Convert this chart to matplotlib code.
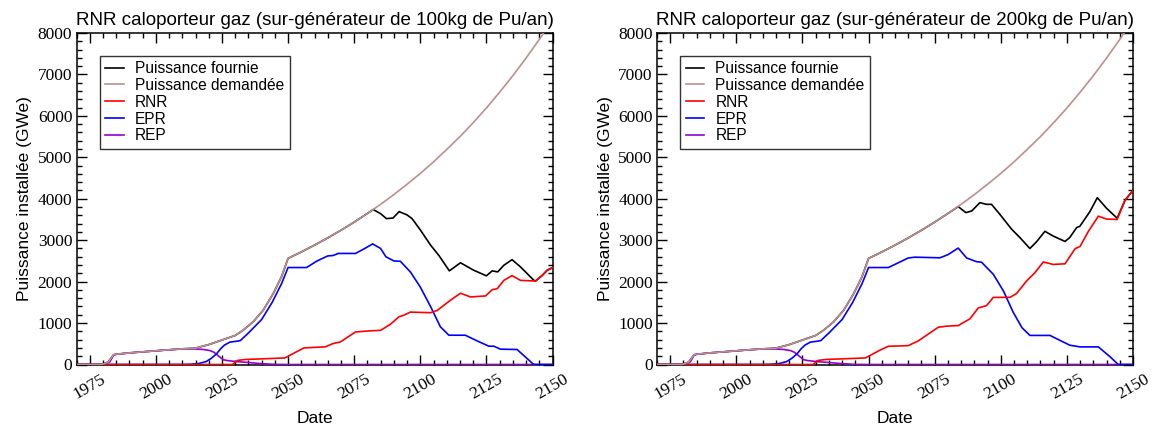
import numpy as np
import matplotlib
matplotlib.use("Agg")
from matplotlib import pyplot as plt
from matplotlib.ticker import MultipleLocator

# puissance demandee (commune aux deux scenarios)
dem_years = [1970, 1979, 1980, 1982, 1984, 1985, 1990, 1995, 2000, 2005, 2010, 2015,
             2020, 2025, 2030, 2033, 2036.8, 2040.6, 2044.4, 2047.5, 2050,
             2055, 2060, 2065, 2070, 2075, 2080, 2085, 2090, 2095, 2100, 2105, 2110,
             2115, 2120, 2125, 2130, 2135, 2140, 2145, 2150]
dem_vals = [0, 0, 10, 60, 235, 248, 280, 305, 330, 355, 378, 395,
            480, 590, 700, 828, 1030, 1310, 1713, 2114, 2560,
            2715, 2880, 3055, 3240, 3435, 3645, 3865, 4100, 4350, 4610, 4890, 5190,
            5500, 5835, 6190, 6570, 6970, 7395, 7845, 8320]

# REP (identique pour les deux scenarios)
rep_years = [1970, 1979, 1981, 1982.6, 1984, 1985, 1990, 1995, 2000, 2005, 2011, 2015,
             2018, 2020.5, 2022, 2024, 2025.5, 2027, 2030, 2035, 2040, 2045, 2050, 2150]
rep_vals = [0, 0, 20, 65, 220, 245, 280, 305, 330, 355, 378, 375,
            362, 335, 295, 190, 115, 95, 73, 48, 20, 3, 0, 0]

# scenario 100 kg Pu/an
epr1_years = [1970, 2010, 2013, 2016, 2019, 2021, 2023, 2024.5, 2026, 2028, 2031, 2032,
              2035, 2040, 2044, 2047.5, 2050, 2057, 2061, 2065, 2067, 2069, 2075.5, 2079,
              2082, 2085, 2087, 2090, 2092.5, 2096.3, 2100, 2104, 2107.6, 2110.8, 2117,
              2121.5, 2125.9, 2127.8, 2130.3, 2136.6, 2142.9, 2150]
epr1_vals = [0, 0, 5, 20, 70, 150, 260, 380, 470, 540, 565, 580,
             760, 1085, 1500, 1945, 2340, 2340, 2500, 2620, 2630, 2680, 2680, 2800,
             2910, 2800, 2600, 2500, 2490, 2230, 1870, 1385, 910, 707, 707,
             570, 442, 442, 370, 362, 0, 0]
rnr1_years = [1970, 2029, 2031, 2034, 2040, 2048.8, 2050, 2053, 2056, 2064, 2067, 2069.8,
              2075.5, 2080.5, 2085, 2088.7, 2091.9, 2093.8, 2096.3, 2103.9, 2106.4,
              2111.4, 2115.2, 2119, 2124.7, 2127.2, 2129.1, 2131.6, 2134.7, 2137.9,
              2143.6, 2146.1, 2148, 2150]
rnr1_vals = [0, 0, 100, 122, 136, 158, 198, 300, 400, 425, 505, 545,
             785, 810, 825, 970, 1150, 1190, 1265, 1250, 1305,
             1550, 1720, 1630, 1655, 1805, 1830, 2030, 2145, 2030,
             2015, 2150, 2275, 2335]
four1_start = 2082.2
four1_years = [2082.2, 2085, 2087.2, 2089.7, 2092, 2095, 2096.9, 2100.1, 2103.9, 2107,
               2111, 2115.2, 2120.2, 2125, 2127.2, 2129.3, 2131.6, 2134.7, 2137.9,
               2142.9, 2143.6, 2146.1, 2148, 2150]
four1_vals = [3740, 3640, 3520, 3535, 3690, 3610, 3520, 3240, 2880, 2635,
              2260, 2455, 2275, 2140, 2260, 2235, 2395, 2530, 2355,
              2035, 2015, 2150, 2275, 2335]

# scenario 200 kg Pu/an
epr2_years = [1970, 2010, 2013, 2016, 2019, 2021, 2023, 2024.5, 2026, 2028, 2031, 2032,
              2035, 2040, 2044, 2047.5, 2050, 2057.5, 2065, 2067.5, 2077, 2080, 2083.9,
              2087.1, 2090.9, 2092.7, 2097.2, 2101, 2104.7, 2108, 2111, 2118.6, 2126.1,
              2130, 2136.9, 2141.3, 2144.4, 2150]
epr2_vals = [0, 0, 5, 20, 70, 150, 260, 380, 470, 540, 565, 580,
             760, 1085, 1500, 1945, 2340, 2340, 2570, 2590, 2575, 2650, 2810,
             2570, 2480, 2470, 2175, 1775, 1260, 890, 702, 702, 465,
             425, 425, 188, 0, 0]
rnr2_years = [1970, 2029, 2031, 2034, 2040, 2048.8, 2050, 2054.3, 2057.5, 2065, 2068.8,
              2076.4, 2079.5, 2083.9, 2088.3, 2091.5, 2094.6, 2097.2, 2103.5, 2106,
              2109.8, 2112.9, 2116.1, 2119.8, 2124.3, 2128.1, 2130, 2133.1, 2136.9,
              2140, 2144, 2147, 2150]
rnr2_vals = [0, 0, 100, 122, 136, 158, 198, 345, 440, 455, 570,
             900, 925, 940, 1100, 1365, 1420, 1620, 1620, 1715,
             2020, 2215, 2475, 2415, 2430, 2795, 2850, 3210, 3580,
             3510, 3500, 3965, 4200]
four2_start = 2083.9
four2_years = [2083.9, 2086.8, 2089, 2092.1, 2094.6, 2096.5, 2099.7, 2104.1, 2107.2,
               2111, 2113.5, 2116.7, 2119.8, 2124.3, 2126.1, 2128.7, 2129.9, 2133.7,
               2136.5, 2140, 2144, 2147, 2150]
four2_vals = [3810, 3665, 3705, 3905, 3865, 3865, 3620, 3265, 3065,
              2800, 2960, 3215, 3100, 2970, 3065, 3305, 3335, 3690,
              4025, 3770, 3530, 3965, 4200]

titles = ["RNR caloporteur gaz (sur-générateur de 100kg de Pu/an)",
          "RNR caloporteur gaz (sur-générateur de 200kg de Pu/an)"]

sans = "Liberation Sans"
serif = "Liberation Serif"

c_four = "black"
c_dem = "#bc8f8f"
c_rnr = "#ff0000"
c_epr = "#0000ff"
c_rep = "#9400d3"


def fourni(start, years, vals):
    dy = np.array(dem_years, dtype=float)
    dv = np.array(dem_vals, dtype=float)
    m = dy < start
    return np.concatenate([dy[m], years]), np.concatenate([dv[m], vals])


fig = plt.figure(figsize=(11.59, 4.32), dpi=100)
W, H = 1159, 432
lefts = [76.5, 657]

scen = [
    (fourni(four1_start, four1_years, four1_vals), rnr1_years, rnr1_vals, epr1_years, epr1_vals),
    (fourni(four2_start, four2_years, four2_vals), rnr2_years, rnr2_vals, epr2_years, epr2_vals),
]

for i, ax_left in enumerate(lefts):
    ax = fig.add_axes([ax_left / W, 67.5 / H, 476 / W, 331.5 / H])
    (fy, fv), ry, rv, ey, ev = scen[i]
    lw = 1.2
    ax.plot(rep_years, rep_vals, color=c_rep, lw=lw, label="REP", zorder=3)
    ax.plot(ey, ev, color=c_epr, lw=lw, label="EPR", zorder=4)
    ax.plot(ry, rv, color=c_rnr, lw=lw, label="RNR", zorder=5)
    ax.plot(dem_years, dem_vals, color=c_dem, lw=lw, label="Puissance demandée", zorder=6)
    ax.plot(fy, fv, color=c_four, lw=lw, label="Puissance fournie", zorder=2)

    ax.set_xlim(1970, 2150)
    ax.set_ylim(0, 8000)
    ax.xaxis.set_major_locator(MultipleLocator(25))
    ax.xaxis.set_minor_locator(MultipleLocator(5))
    ax.yaxis.set_major_locator(MultipleLocator(1000))
    ax.yaxis.set_minor_locator(MultipleLocator(200))
    ax.tick_params(which="both", direction="in", top=True, right=True, width=1)
    ax.tick_params(which="major", length=7)
    ax.tick_params(which="minor", length=3.5)
    ax.tick_params(axis="y", pad=3)
    ax.tick_params(axis="x", pad=5)
    for s in ax.spines.values():
        s.set_linewidth(1.1)

    ax.set_xticks(range(1975, 2151, 25))
    ax.set_xticklabels([str(v) for v in range(1975, 2151, 25)], rotation=30,
                       ha="center", family=serif, fontsize=12.5)
    for t in ax.get_yticklabels():
        t.set_family(serif)
        t.set_fontsize(12.5)

    ax.set_title(titles[i], family=sans, fontsize=13.5, pad=6)
    ax.set_xlabel("Date", family=sans, fontsize=12.5, labelpad=6)
    ax.set_ylabel("Puissance installée (GWe)", family=sans, fontsize=12.5, labelpad=4)

    h, l = ax.get_legend_handles_labels()
    order = [4, 3, 2, 1, 0]
    leg = ax.legend([h[k] for k in order], [l[k] for k in order],
                    loc="upper left", bbox_to_anchor=(0.049, 0.932),
                    borderaxespad=0, frameon=True, fancybox=False,
                    prop={"family": sans, "size": 11.2},
                    handlelength=1.2, handletextpad=0.7, labelspacing=0.12,
                    borderpad=0.35)
    leg.get_frame().set_edgecolor("black")
    leg.get_frame().set_linewidth(1)

fig.savefig("out.png", dpi=100)
